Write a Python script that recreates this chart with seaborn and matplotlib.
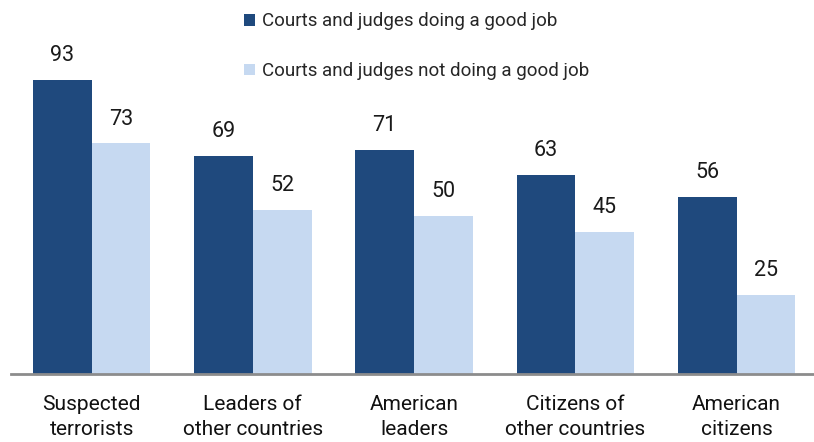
import pandas as pd
import seaborn as sns
import matplotlib.pyplot as plt

categories = ["Suspected\nterrorists", "Leaders of\nother countries", "American\nleaders",
              "Citizens of\nother countries", "American\ncitizens"]
good_job = [93, 69, 71, 63, 56]
not_good_job = [73, 52, 50, 45, 25]
series = ["Courts and judges doing a good job", "Courts and judges not doing a good job"]

df = pd.DataFrame({
    "category": categories * 2,
    "value": good_job + not_good_job,
    "series": [series[0]] * 5 + [series[1]] * 5,
})

sns.set_theme(style="white")
plt.rcParams['font.family'] = ['Roboto', 'DejaVu Sans']

fig = plt.figure(figsize=(8.14, 4.42), dpi=100)
ax = fig.add_axes([11 / 814, 68 / 442, 803 / 814, 374 / 442])

sns.barplot(data=df, x="category", y="value", hue="series", hue_order=series,
            palette=["#1f497d", "#c6d9f1"], width=0.73, saturation=1, linewidth=0, ax=ax)

for c in ax.containers:
    ax.bar_label(c, fmt="%d", padding=10, fontsize=15.5, color="#1a1a1a")

ax.set_ylim(0, 118.4)
ax.set_xlim(-0.5, 4.48)
ax.set_xlabel("")
ax.set_ylabel("")
ax.set_yticks([])
for s in ["top", "right", "left"]:
    ax.spines[s].set_visible(False)
ax.spines["bottom"].set_color("#8c8c8c")
ax.spines["bottom"].set_linewidth(2)
ax.tick_params(axis="x", length=0, pad=15, labelsize=15, colors="#111111")
for lbl in ax.get_xticklabels():
    lbl.set_linespacing(1.4)

leg = ax.legend(loc="upper left", bbox_to_anchor=(232 / 814, 1.0), bbox_transform=fig.transFigure,
                frameon=False, fontsize=13.5, handlelength=0.6, handleheight=0.6,
                handletextpad=0.35, labelspacing=1.7, borderaxespad=0.25)

fig.savefig("out.png", dpi=100)
